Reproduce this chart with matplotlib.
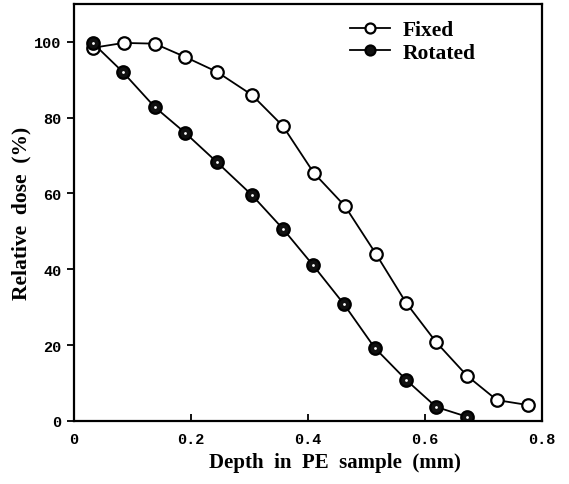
import numpy as np
import matplotlib
matplotlib.use("Agg")
import matplotlib.pyplot as plt

# Fixed sample
depth_fixed = [0.032, 0.085, 0.138, 0.190, 0.244, 0.304, 0.357, 0.410,
               0.463, 0.516, 0.568, 0.619, 0.672, 0.723, 0.776]
dose_fixed = [98.4, 99.7, 99.5, 96.0, 92.1, 86.0, 77.8, 65.4,
              56.7, 44.1, 31.1, 20.8, 11.9, 5.5, 4.2]

# Rotated sample
depth_rot = [0.032, 0.083, 0.138, 0.190, 0.244, 0.304, 0.357, 0.408,
             0.461, 0.514, 0.568, 0.619, 0.672]
dose_rot = [99.7, 92.1, 82.8, 76.0, 68.3, 59.6, 50.7, 41.2,
            30.9, 19.3, 10.8, 3.7, 1.1]

xticks = [0, 0.2, 0.4, 0.6, 0.8]
xtick_labels = ["0", "0.2", "0.4", "0.6", "0.8"]
yticks = [0, 20, 40, 60, 80, 100]

fig = plt.figure(figsize=(5.69, 4.85), dpi=100)
ax = fig.add_axes([0.130, 0.130, 0.8225, 0.860])

ax.plot(depth_fixed, dose_fixed, "-o", color="black", lw=1.3,
        ms=9, mfc="white", mec="black", mew=1.6, label="Fixed")
ax.plot(depth_rot, dose_rot, "-o", color="black", lw=1.3,
        ms=9, mfc="#111111", mec="black", mew=1.6, label="Rotated")
# small white mark inside the filled circles
ax.plot(depth_rot, dose_rot, "o", ms=2, mfc="white", mec="none")

ax.set_xlim(0, 0.8)
ax.set_ylim(0, 110)
ax.set_xticks(xticks)
ax.set_xticklabels(xtick_labels)
ax.set_yticks(yticks)

for s in ax.spines.values():
    s.set_linewidth(1.6)
ax.tick_params(axis="x", direction="in", length=5, width=1.3, pad=8)
ax.tick_params(axis="y", direction="out", length=5, width=1.3, pad=4)
for lab in ax.get_xticklabels() + ax.get_yticklabels():
    lab.set_family("Liberation Mono")
    lab.set_weight("bold")
    lab.set_fontsize(11)

ax.set_xlabel("Depth  in  PE  sample  (mm)", family="Liberation Serif",
              weight="bold", fontsize=15)
ax.xaxis.set_label_coords(0.558, -0.075)
ax.set_ylabel("Relative  dose  (%)", family="Liberation Serif",
              weight="bold", fontsize=15.5, labelpad=2)

ax.legend(loc="upper left", bbox_to_anchor=(0.590, 0.961), frameon=False,
          prop={"family": "Liberation Serif", "weight": "bold", "size": 15.5},
          handlelength=1.85, handletextpad=0.6, labelspacing=0.12,
          borderpad=0, borderaxespad=0, markerscale=0.8)

fig.savefig("out.png", dpi=100)
